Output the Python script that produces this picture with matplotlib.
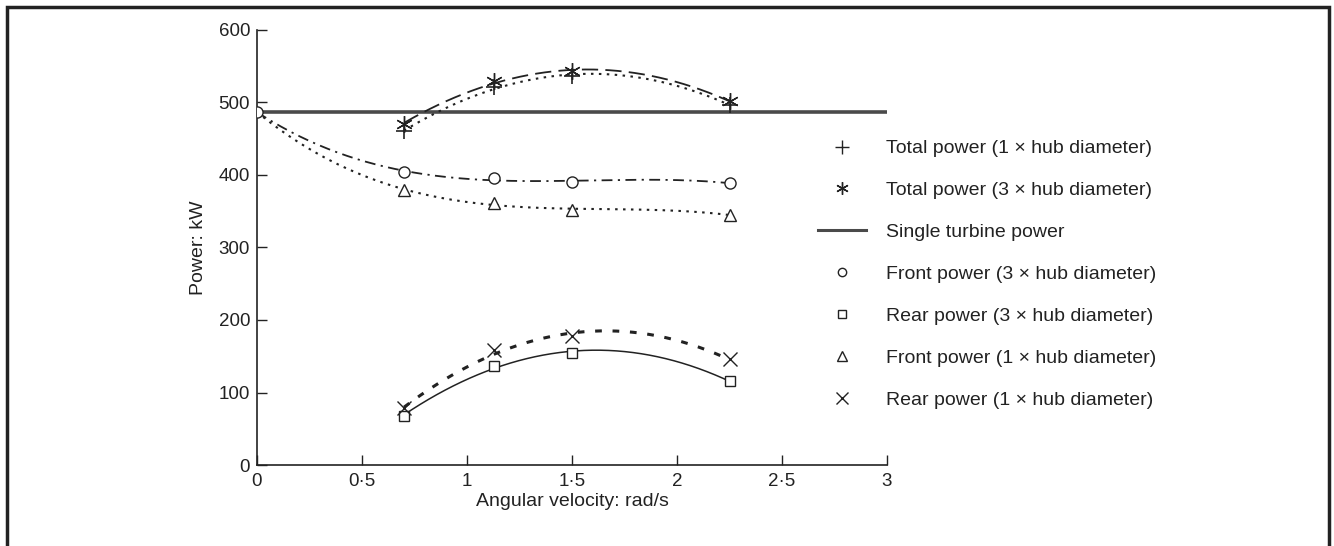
import numpy as np
import matplotlib
matplotlib.use("Agg")
import matplotlib.pyplot as plt
from matplotlib.patches import Rectangle
from matplotlib.lines import Line2D
from matplotlib.ticker import FuncFormatter

# ---- data ----
omega = [0.7, 1.13, 1.5, 2.25]
total_1hub = [460, 522, 536, 497]
total_3hub = [471, 529, 543, 502]
single_turbine = 487
front_3hub = [404, 396, 390, 389]
front_1hub = [379, 361, 352, 345]
rear_3hub = [68, 137, 154, 116]
rear_1hub = [78, 158, 178, 146]
omega0 = 0.0

x_ticks = [0, 0.5, 1, 1.5, 2, 2.5, 3]
y_ticks = [0, 100, 200, 300, 400, 500, 600]

plt.rcParams['font.family'] = ['Liberation Sans', 'DejaVu Sans']
fig = plt.figure(figsize=(13.34, 5.46), dpi=100)
ax = fig.add_axes([257/1334, 1-465/546, 630/1334, 435/546])

K = '#222222'

def trend(xs, ys, deg, x0, x1):
    c = np.polyfit(xs, ys, deg)
    xx = np.linspace(x0, x1, 200)
    return xx, np.polyval(c, xx)

# single turbine
ax.plot([0, 3], [single_turbine, single_turbine], color='#4a4a4a', lw=2.6, zorder=2)

# totals
xx, yy = trend(omega, total_1hub, 2, omega[0], omega[-1])
ax.plot(xx, yy, color=K, lw=1.5, dashes=(1.2, 2.6))
xx, yy = trend(omega, total_3hub, 2, omega[0], omega[-1])
ax.plot(xx, yy, color=K, lw=1.3, dashes=(9, 4))

# fronts (start from single turbine value at 0)
fx = [omega0] + omega
xx, yy = trend(fx, [single_turbine] + front_3hub, 3, 0, omega[-1])
ax.plot(xx, yy, color=K, lw=1.3, dashes=(6, 3, 1.2, 3))
xx, yy = trend(fx, [single_turbine] + front_1hub, 3, 0, omega[-1])
ax.plot(xx, yy, color=K, lw=1.5, dashes=(1.2, 2.6))

# rears
xx, yy = trend(omega, rear_3hub, 2, omega[0], omega[-1])
ax.plot(xx, yy, color=K, lw=1.1)
xx, yy = trend(omega, rear_1hub, 2, omega[0], omega[-1])
ax.plot(xx, yy, color=K, lw=2.2, dashes=(2.2, 3.5))

mk = dict(color=K, ls='none', markerfacecolor='white', markeredgecolor=K, zorder=4)
ax.plot(omega, total_1hub, marker='+', ms=11, mew=1.2, **mk)
ax.plot(omega, total_3hub, marker=(6, 2, 0), ms=12, mew=1.0, **mk)
ax.plot([omega0], [single_turbine], marker='o', ms=8, mew=1.0, **mk)
ax.plot(omega, front_3hub, marker='o', ms=8, mew=1.0, **mk)
ax.plot(omega, rear_3hub, marker='s', ms=7, mew=1.0, **mk)
ax.plot(omega, front_1hub, marker='^', ms=9, mew=1.0, **mk)
ax.plot(omega, rear_1hub, marker='x', ms=10, mew=1.0, **mk)

ax.set_xlim(0, 3)
ax.set_ylim(0, 600)
ax.set_xticks(x_ticks)
ax.set_yticks(y_ticks)
ax.xaxis.set_major_formatter(FuncFormatter(lambda v, p: ('%g' % v).replace('.', '\u00b7')))
ax.tick_params(direction='in', length=7, width=1, labelsize=13.5, colors=K)
ax.tick_params(axis='y', pad=5)
ax.tick_params(axis='x', pad=6)
for s in ['top', 'right']:
    ax.spines[s].set_visible(False)
for s in ['left', 'bottom']:
    ax.spines[s].set_linewidth(1.2)
    ax.spines[s].set_color(K)
ax.set_xlabel('Angular velocity: rad/s', fontsize=14, color=K, labelpad=2)
ax.set_ylabel('Power: kW', fontsize=14, color=K, labelpad=8)

lk = dict(color=K, ls='none', markerfacecolor='white', markeredgecolor=K)
handles = [
    Line2D([], [], marker='+', ms=10, mew=1.0, **lk),
    Line2D([], [], marker=(6, 2, 0), ms=9, mew=1.0, **lk),
    Line2D([], [], color='#4a4a4a', lw=2.2),
    Line2D([], [], marker='o', ms=6, mew=1.0, **lk),
    Line2D([], [], marker='s', ms=5.5, mew=1.0, **lk),
    Line2D([], [], marker='^', ms=6.5, mew=1.0, **lk),
    Line2D([], [], marker='x', ms=9, mew=1.0, **lk),
]
labels = ['Total power (1 \u00d7 hub diameter)', 'Total power (3 \u00d7 hub diameter)',
          'Single turbine power', 'Front power (3 \u00d7 hub diameter)',
          'Rear power (3 \u00d7 hub diameter)', 'Front power (1 \u00d7 hub diameter)',
          'Rear power (1 \u00d7 hub diameter)']
fig.legend(handles, labels, loc='upper left', bbox_to_anchor=(808/1334, 1-130/546),
           frameon=False, fontsize=14, handlelength=2.5, handletextpad=1.0,
           labelspacing=1.25, borderpad=0, labelcolor=K)

fig.add_artist(Rectangle((7/1334, -0.05), 1322/1334, 1.05 - 7/546, transform=fig.transFigure,
                         fill=False, lw=2.5, edgecolor=K))

fig.savefig('out.png', dpi=100)
